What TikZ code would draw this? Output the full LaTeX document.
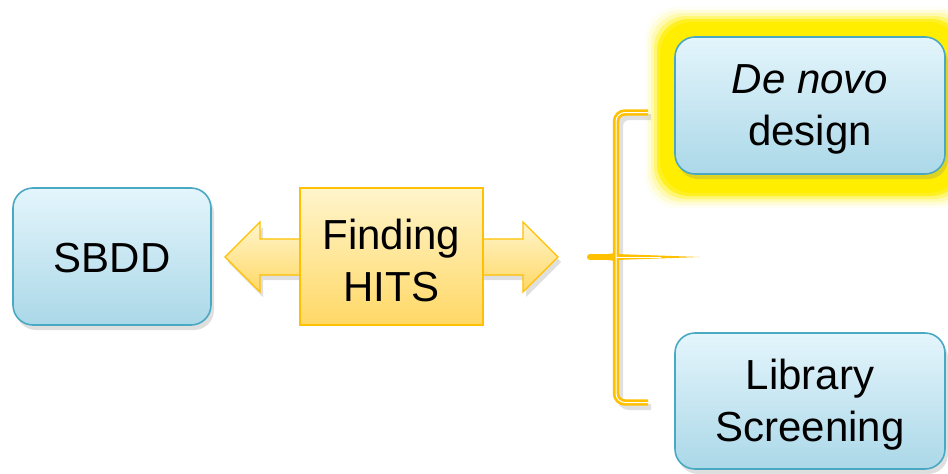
\documentclass[tikz,border=0pt]{standalone}
\usepackage{fontspec}
\setmainfont{Liberation Sans}
\usetikzlibrary{shadows,calc}
\definecolor{boxtop}{HTML}{E4F5FC}
\definecolor{boxbot}{HTML}{ABD8E8}
\definecolor{boxline}{HTML}{4AA9C2}
\definecolor{ytop}{HTML}{FFF5CC}
\definecolor{ybot}{HTML}{FFD866}
\definecolor{gold}{HTML}{FFC000}
\definecolor{glow}{HTML}{FFEE00}
\tikzset{
  bluebox/.style={draw=boxline, line width=1.6pt, rounded corners=20pt,
    top color=boxtop, bottom color=boxbot, inner sep=0pt,
    drop shadow={opacity=0.25, shadow xshift=3pt, shadow yshift=-5pt}},
  yelbox/.style={draw=gold, line width=1.4pt, top color=ytop, bottom color=ybot, inner sep=0pt},
  lbl/.style={align=center, inner sep=0pt, font=\fontsize{42}{52}\selectfont},
  arrowbody/.style={draw=gold, line width=1.4pt, top color=ytop, bottom color=ybot,
    drop shadow={opacity=0.25, shadow xshift=3pt, shadow yshift=-5pt}},
  brace/.style={draw=gold, double=white, double distance=1pt, line width=2.7pt}
}
\begin{document}
\begin{tikzpicture}[x=1pt,y=-1pt]
\useasboundingbox (0,0) rectangle (948,474);
% glow behind De novo
\coordinate (dnc) at (810,105.5);
\foreach \d/\o in {30/0.05,27/0.1,24/0.18,21/0.35,18/0.7,15/1}{
  \fill[glow, opacity=\o, rounded corners=32pt]
    ($(dnc)+(-135-\d,-68.5-\d)$) rectangle ($(dnc)+(135+\d,68.5+\d+4)$);
}
% boxes
\node[bluebox, minimum width=198pt, minimum height=137pt] (sbdd) at (112,256.5) {};
\node[bluebox, minimum width=270pt, minimum height=137pt] (dn) at (dnc) {};
\node[bluebox, minimum width=270pt, minimum height=136pt] (lib) at (810,401) {};
% double arrow
\coordinate (lt) at (225,257);
\coordinate (rt) at (558,257);
\path[arrowbody] (lt) -- ++(35,-35) -- ++(0,17) -- ++(263,0) -- ++(0,-17) -- (rt)
  -- ++(-35,35) -- ++(0,-17) -- ++(-263,0) -- ++(0,17) -- cycle;
\node[yelbox, minimum width=183pt, minimum height=137pt] (find) at (391.5,256.5) {};
% labels
\node[lbl] (tsbdd) at ($(sbdd.center)+(0,2)$) {SBDD};
\node[lbl] (tdn) at ($(dn.center)+(0,4)$) {\textit{De novo}\\design};
\node[lbl] (tlib) at ($(lib.center)+(0,4)$) {Library\\Screening};
\node[lbl] (tfind) at ($(find.center)+(0,4)$) {Finding\\HITS};
% bracket shadow
\draw[black, opacity=0.12, line width=6pt, rounded corners=9pt]
  (651,117) -- (620,117) -- (620,407) -- (651,407);
% bracket
\coordinate (bt) at (648,112.5);
\coordinate (bb) at (648,402.5);
\coordinate (bm) at (616,257);
\coordinate (btip) at (590,257);
\coordinate (spike) at (700,257);
\fill[gold] ($(bm)+(0,-3)$) -- (spike) -- ($(bm)+(0,3)$) -- cycle;
\fill[gold] ($(bm)+(2,-10)$) .. controls ($(bm)+(0,-4)$) .. ($(bm)+(-8,-3)$)
  -- ($(bm)+(-8,3)$) .. controls ($(bm)+(0,4)$) .. ($(bm)+(2,10)$) -- cycle;
\draw[gold, line width=6pt, line cap=round] (btip) -- (bm);
\draw[brace, rounded corners=9pt] (bt) -- (616,112.5) -- (616,402.5) -- (bb);
\draw[white, line width=0.7pt] ($(bm)+(0,0)$) -- ($(bm)+(45,0)$);
\end{tikzpicture}
\end{document}
